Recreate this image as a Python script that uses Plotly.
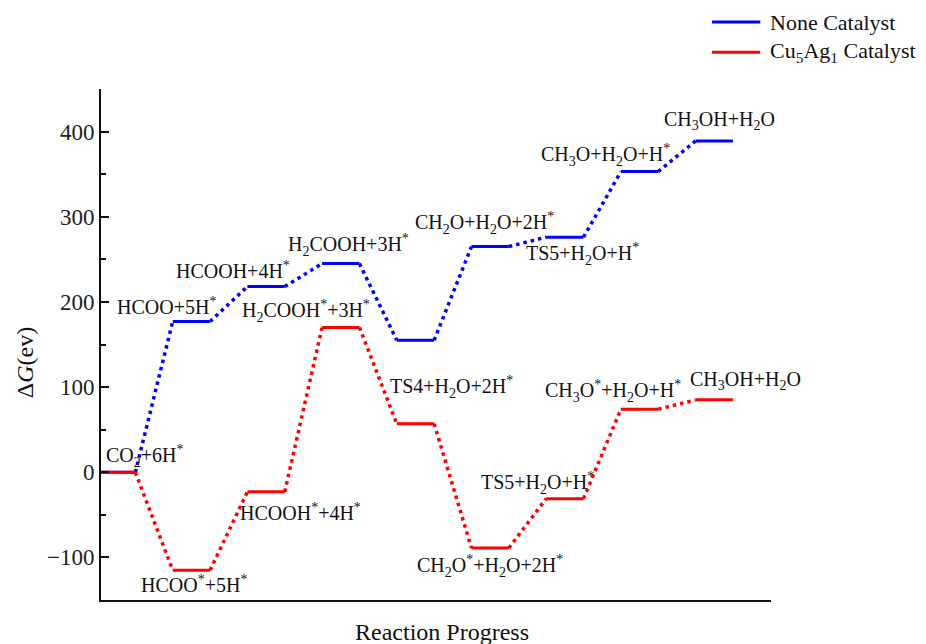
import plotly.graph_objects as go

# Free-energy levels (eV) along the CO2 -> CH3OH hydrogenation path
step_index = [1, 2, 3, 4, 5, 6, 7, 8, 9]
none_energy = [0, 177, 218, 245, 155, 265, 276, 353, 389]
cuag_energy = [0, -115, -23, 170, 57, -89, -31, 74, 85]

none_labels = [
    "CO<sub>2</sub>+6H<sup>*</sup>",
    "HCOO+5H<sup>*</sup>",
    "HCOOH+4H<sup>*</sup>",
    "H<sub>2</sub>COOH+3H<sup>*</sup>",
    "",
    "CH<sub>2</sub>O+H<sub>2</sub>O+2H<sup>*</sup>",
    "TS5+H<sub>2</sub>O+H<sup>*</sup>",
    "CH<sub>3</sub>O+H<sub>2</sub>O+H<sup>*</sup>",
    "CH<sub>3</sub>OH+H<sub>2</sub>O",
]
cuag_labels = [
    "",
    "HCOO<sup>*</sup>+5H<sup>*</sup>",
    "HCOOH<sup>*</sup>+4H<sup>*</sup>",
    "H<sub>2</sub>COOH<sup>*</sup>+3H<sup>*</sup>",
    "TS4+H<sub>2</sub>O+2H<sup>*</sup>",
    "CH<sub>2</sub>O<sup>*</sup>+H<sub>2</sub>O+2H<sup>*</sup>",
    "TS5+H<sub>2</sub>O+H<sup>*</sup>",
    "CH<sub>3</sub>O<sup>*</sup>+H<sub>2</sub>O+H<sup>*</sup>",
    "CH<sub>3</sub>OH+H<sub>2</sub>O",
]

# label placement relative to each level centre, in pixels (x, y-up)
none_offsets = [(28, 16), (-25, 16), (-33, 17), (8, 19), None,
                (-6, 24), (18, -17), (-34, 17), (5, 20)]
cuag_offsets = [None, (3, -14), (34, -20), (-35, 16), (36, 37),
                (0, -18), (-27, 16), (-27, 18), (31, 19)]

BLUE = "#0000ff"
RED = "#ff0000"
HALF = 0.25  # half width of a level bar in step units
FONT = "Liberation Serif, Times New Roman, serif"


def level_xy(steps, energies):
    xs, ys = [], []
    for s, e in zip(steps, energies):
        xs += [s - HALF, s + HALF, None]
        ys += [e, e, None]
    return xs, ys


def link_xy(steps, energies):
    xs, ys = [], []
    for i in range(len(steps) - 1):
        xs += [steps[i] + HALF, steps[i + 1] - HALF, None]
        ys += [energies[i], energies[i + 1], None]
    return xs, ys


fig = go.Figure()
for energies, color, name in [(none_energy, BLUE, "None Catalyst"),
                              (cuag_energy, RED, "Cu5Ag1 Catalyst")]:
    lx, ly = link_xy(step_index, energies)
    fig.add_trace(go.Scatter(x=lx, y=ly, mode="lines", name=name,
                             line=dict(color=color, width=3.5, dash="3.5px,4px"),
                             showlegend=False, hoverinfo="skip"))
    sx, sy = level_xy(step_index, energies)
    fig.add_trace(go.Scatter(x=sx, y=sy, mode="lines", name=name,
                             line=dict(color=color, width=3),
                             showlegend=False))

annotations = []
for labels, energies, offsets in [(none_labels, none_energy, none_offsets),
                                  (cuag_labels, cuag_energy, cuag_offsets)]:
    for s, e, lab, off in zip(step_index, energies, labels, offsets):
        if not lab or off is None:
            continue
        annotations.append(dict(
            x=s, y=e, xref="x", yref="y", text=lab, showarrow=False,
            xanchor="center", yanchor="middle", xshift=off[0], yshift=off[1],
            font=dict(family=FONT, size=20, color="#111111")))

# axis titles
annotations.append(dict(
    x=0.509, y=-0.0626, xref="paper", yref="paper", text="Reaction Progress",
    showarrow=False, xanchor="center", yanchor="middle",
    font=dict(family=FONT, size=24, color="#111111")))
annotations.append(dict(
    x=-0.113, y=0.464, xref="paper", yref="paper", text="Δ<i>G</i>(ev)",
    showarrow=False, textangle=-90, xanchor="center", yanchor="middle",
    font=dict(family=FONT, size=24, color="#111111")))

# legend entries
legend_items = [("None Catalyst", BLUE, 1.131),
                ("Cu<sub>5</sub>Ag<sub>1</sub> Catalyst", RED, 1.072)]
shapes = []
for text, color, yp in legend_items:
    shapes.append(dict(type="line", xref="paper", yref="paper",
                       x0=0.912, x1=0.984, y0=yp, y1=yp,
                       line=dict(color=color, width=3)))
    annotations.append(dict(x=0.9955, y=yp, xref="paper", yref="paper",
                            text=text, showarrow=False, xanchor="left",
                            yanchor="middle",
                            font=dict(family=FONT, size=22, color="#111111")))

fig.update_layout(
    width=926, height=644,
    margin=dict(l=101, r=155, t=89, b=44),
    plot_bgcolor="white", paper_bgcolor="white",
    font=dict(family=FONT, color="#111111"),
    annotations=annotations, shapes=shapes,
    showlegend=False,
)
fig.update_xaxes(range=[0.79, 9.76], showline=True, linecolor="#111111",
                 linewidth=2, showticklabels=False, ticks="", showgrid=False,
                 zeroline=False)
fig.update_yaxes(range=[-150, 450], dtick=100, showline=True,
                 linecolor="#111111", linewidth=2, ticks="inside", ticklen=8,
                 tickwidth=2, tickcolor="#111111",
                 tickfont=dict(family=FONT, size=23, color="#222222"),
                 minor=dict(dtick=50, ticks="inside", ticklen=5, tickwidth=2,
                            tickcolor="#111111"),
                 showgrid=False, zeroline=False)

fig.write_html("out.html")
